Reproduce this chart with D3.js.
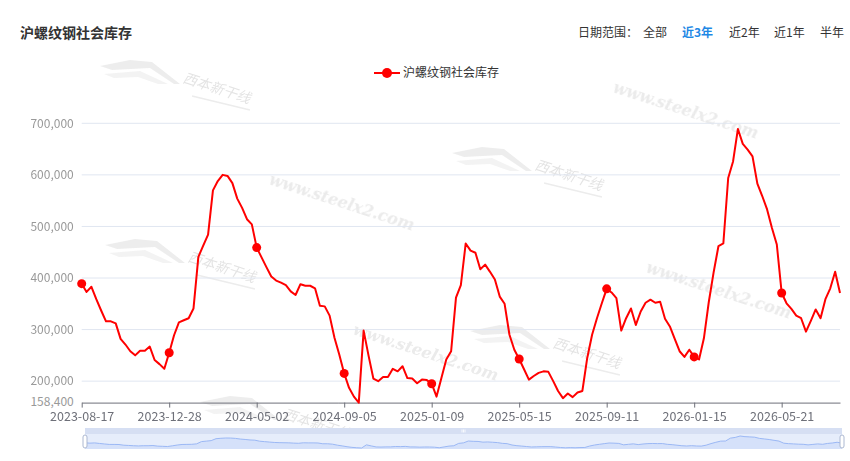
<!doctype html>
<html>
<head>
<meta charset="utf-8">
<script src="https://d3js.org/d3.v7.min.js"></script>
<style>
  body { margin: 0; background: #fff; }
  text { font-family: "Microsoft YaHei", "Noto Sans CJK SC", sans-serif; }
</style>
</head>
<body>
<div id="chart"></div>
<script>
// weekly dates (category axis)
var dates = [
  "2023-08-17","2023-08-24","2023-08-31","2023-09-07","2023-09-14","2023-09-21","2023-09-28","2023-10-12","2023-10-19","2023-10-26",
  "2023-11-02","2023-11-09","2023-11-16","2023-11-23","2023-11-30","2023-12-07","2023-12-14","2023-12-21","2023-12-28","2024-01-04",
  "2024-01-11","2024-01-18","2024-01-25","2024-02-01","2024-02-08","2024-02-15","2024-02-22","2024-02-29","2024-03-07","2024-03-14",
  "2024-03-21","2024-03-28","2024-04-04","2024-04-11","2024-04-18","2024-04-25","2024-05-02","2024-05-09","2024-05-16","2024-05-23",
  "2024-05-30","2024-06-06","2024-06-13","2024-06-20","2024-06-27","2024-07-04","2024-07-11","2024-07-18","2024-07-25","2024-08-01",
  "2024-08-08","2024-08-15","2024-08-22","2024-08-29","2024-09-05","2024-09-12","2024-09-19","2024-09-26","2024-10-03","2024-10-10",
  "2024-10-17","2024-10-24","2024-10-31","2024-11-07","2024-11-14","2024-11-21","2024-11-28","2024-12-05","2024-12-12","2024-12-19",
  "2024-12-26","2025-01-02","2025-01-09","2025-01-16","2025-01-23","2025-01-30","2025-02-06","2025-02-13","2025-02-20","2025-02-27",
  "2025-03-06","2025-03-13","2025-03-20","2025-03-27","2025-04-03","2025-04-10","2025-04-17","2025-04-24","2025-05-01","2025-05-08",
  "2025-05-15","2025-05-22","2025-05-29","2025-06-03","2025-06-05","2025-06-12","2025-06-19","2025-06-26","2025-07-03","2025-07-10",
  "2025-07-17","2025-07-24","2025-07-31","2025-08-07","2025-08-14","2025-08-21","2025-08-28","2025-09-04","2025-09-11","2025-09-18",
  "2025-09-25","2025-10-02","2025-10-09","2025-10-16","2025-10-23","2025-10-30","2025-11-06","2025-11-13","2025-11-20","2025-11-27",
  "2025-12-04","2025-12-11","2025-12-18","2025-12-25","2026-01-01","2026-01-08","2026-01-15","2026-01-22","2026-01-29","2026-02-05",
  "2026-02-12","2026-02-19","2026-02-26","2026-03-05","2026-03-12","2026-03-19","2026-03-26","2026-04-02","2026-04-09","2026-04-16",
  "2026-04-23","2026-04-30","2026-05-07","2026-05-14","2026-05-21","2026-05-28","2026-06-04","2026-06-11","2026-06-18","2026-06-25",
  "2026-07-02","2026-07-09","2026-07-16","2026-07-23","2026-07-30","2026-08-06","2026-08-13"
];

// 沪螺纹钢社会库存 (吨)
var stock = [
  389000,373000,383000,359000,337000,316000,316000,312000,282000,271000,
  258000,250000,259000,259000,267000,241000,233000,224000,255000,289000,
  314000,318000,322000,341000,441000,463000,484000,570000,588000,600000,
  598000,584000,554000,536000,514000,504000,459000,440000,421000,403000,
  395000,391000,386000,374000,367000,388000,385000,385000,380000,346000,
  345000,327000,284000,251000,215000,187000,170000,158400,298000,250000,
  205000,200000,208000,208000,224000,219000,229000,206000,205000,196000,
  203000,202000,195000,170000,206000,242000,258000,362000,386000,467000,
  453000,449000,417000,426000,412000,397000,364000,350000,290000,261000,
  243000,223000,203000,210000,216000,219000,218000,200000,181000,167000,
  176000,169000,178000,181000,245000,290000,322000,351000,379000,372000,
  361000,298000,322000,341000,309000,335000,352000,358000,352000,354000,
  321000,306000,282000,258000,247000,261000,247000,242000,283000,353000,
  411000,462000,467000,594000,626000,689000,660000,649000,636000,583000,
  559000,533000,497000,465000,371000,351000,340000,327000,322000,296000,
  317000,339000,322000,359000,380000,412000,371000
];

var yTicks = [158400, 200000, 300000, 400000, 500000, 600000, 700000];
var xTicks = dates.filter(function(d, i) { return i % 18 === 0; });
var rangeOptions = ["全部", "近3年", "近2年", "近1年", "半年"];
var activeRange = "近3年";
var seriesName = "沪螺纹钢社会库存";

var W = 850, H = 461;
var plotLeft = 81.7, plotRight = 840, plotTop = 123.3, plotBottom = 402.6;

var svg = d3.select("#chart").append("svg")
    .attr("width", W).attr("height", H);

// ---- watermarks
var wm = svg.append("g").attr("class", "watermarks").attr("opacity", 0.7);
function logo(x, y) {
  var g = wm.append("g").attr("transform", "translate(" + x + "," + y + ")");
  g.append("path").attr("d", "M0,4 L30,-2 L52,0 L80,22 L74,22 L50,6 L12,8 Z").attr("fill", "#e6e6e6");
  g.append("path").attr("d", "M4,12 L40,9 L68,22 L58,22 L38,15 L14,16 Z").attr("fill", "#eeeeee");
  g.append("text").attr("transform", "translate(82,20) rotate(18)")
    .attr("font-size", 14).attr("font-style", "italic")
    .attr("fill", "#d8d8d8").text("西本新干线");
  g.append("line").attr("x1", 92).attr("y1", 34).attr("x2", 150).attr("y2", 48)
    .attr("stroke", "#e4e4e4").attr("stroke-width", 1.5);
}
function site(x, y) {
  wm.append("text").attr("transform", "translate(" + x + "," + y + ") rotate(18)")
    .style("font-family", "'DejaVu Serif', serif").attr("font-size", 16)
    .attr("font-style", "italic").attr("font-weight", "bold")
    .attr("fill", "#e2e2e2").text("www.steelx2.com");
}
logo(100, 62); logo(452, 149); logo(105, 241); logo(470, 327); logo(200, 398);
site(612, 92); site(268, 184); site(645, 272); site(352, 334);

// ---- title & range selector
svg.append("text").attr("x", 20).attr("y", 38).attr("font-size", 14).attr("font-weight", "bold")
  .attr("fill", "#333").text(seriesName);

svg.append("text").attr("x", 578).attr("y", 37).attr("font-size", 12).attr("fill", "#333").text("日期范围：");
var rx = [643, 682, 729, 774, 820];
rangeOptions.forEach(function(r, i) {
  svg.append("text").attr("x", rx[i]).attr("y", 37).attr("font-size", 12)
    .attr("fill", r === activeRange ? "#1e88e5" : "#333")
    .attr("font-weight", r === activeRange ? "bold" : "normal").text(r);
});

// ---- legend
var lg = svg.append("g").attr("transform", "translate(374,73)");
lg.append("line").attr("x1", 0).attr("x2", 26).attr("y1", 0).attr("y2", 0).attr("stroke", "red").attr("stroke-width", 2);
lg.append("circle").attr("cx", 13).attr("cy", 0).attr("r", 5).attr("fill", "red");
lg.append("text").attr("x", 29).attr("y", 0).attr("dy", "0.35em").attr("font-size", 12).attr("fill", "#333").text(seriesName);

// ---- scales
var x = d3.scalePoint().domain(dates).range([plotLeft, plotRight]);
var y = d3.scaleLinear().domain([158400, 700000]).range([plotBottom, plotTop]);

// grid lines
svg.append("g")
  .selectAll("line").data(yTicks.slice(1)).enter().append("line")
  .attr("x1", plotLeft).attr("x2", plotRight)
  .attr("y1", function(d) { return y(d); }).attr("y2", function(d) { return y(d); })
  .attr("stroke", "#e0e6f1").attr("stroke-width", 1);

// y axis labels
var yAxis = svg.append("g").attr("transform", "translate(" + plotLeft + ",0)")
  .call(d3.axisLeft(y).tickValues(yTicks).tickSize(0).tickPadding(8).tickFormat(d3.format(",")));
yAxis.select(".domain").remove();
yAxis.selectAll("text").attr("fill", "#999").attr("font-size", 12)
  .style("font-family", "'Microsoft YaHei', 'Noto Sans CJK SC', sans-serif");
yAxis.selectAll(".tick").filter(function(d) { return d === 158400; })
  .select("text").attr("dy", "0.2em");

// x axis
var xAxis = svg.append("g").attr("transform", "translate(0," + plotBottom + ")")
  .call(d3.axisBottom(x).tickValues(xTicks).tickSize(5).tickPadding(5).tickSizeOuter(0));
xAxis.select(".domain").attr("stroke", "#6e7079");
xAxis.selectAll(".tick line").attr("stroke", "#6e7079");
xAxis.selectAll("text").attr("fill", "#6e7079").attr("font-size", 12.5)
  .style("font-family", "'Microsoft YaHei', 'Noto Sans CJK SC', sans-serif");

// ---- series
var line = d3.line()
  .x(function(d, i) { return x(dates[i]); })
  .y(function(d) { return y(d); });

svg.append("path").datum(stock)
  .attr("fill", "none").attr("stroke", "red").attr("stroke-width", 2)
  .attr("stroke-linejoin", "round").attr("d", line);

svg.append("g").selectAll("circle")
  .data(stock.map(function(v, i) { return [dates[i], v]; }).filter(function(d, i) { return i % 18 === 0; }))
  .enter().append("circle")
  .attr("cx", function(d) { return x(d[0]); })
  .attr("cy", function(d) { return y(d[1]); })
  .attr("r", 4.5).attr("fill", "red");

// ---- data zoom slider
var sx0 = 85, sx1 = 842, sy0 = 428, sy1 = 449;
var dz = svg.append("g");
dz.append("rect").attr("x", sx0).attr("y", sy0).attr("width", sx1 - sx0).attr("height", sy1 - sy0)
  .attr("fill", "#e6edfb");
dz.append("rect").attr("x", sx0).attr("y", sy0).attr("width", sx1 - sx0).attr("height", 6)
  .attr("fill", "#d6dff3");

var xs = d3.scalePoint().domain(dates).range([sx0, sx1]);
var ys = d3.scaleLinear().domain(d3.extent(stock)).range([sy1 - 1, sy0 + 8]);
dz.append("path").datum(stock)
  .attr("fill", "#c9d8fa").attr("fill-opacity", 0.6)
  .attr("d", d3.area().x(function(d, i) { return xs(dates[i]); }).y0(sy1).y1(function(d) { return ys(d); }));
dz.append("path").datum(stock)
  .attr("fill", "none").attr("stroke", "#9bb8f5").attr("stroke-width", 1)
  .attr("d", d3.line().x(function(d, i) { return xs(dates[i]); }).y(function(d) { return ys(d); }));

[-1.5, 0, 1.5].forEach(function(o) {
  dz.append("line").attr("x1", (sx0 + sx1) / 2 + o).attr("x2", (sx0 + sx1) / 2 + o)
    .attr("y1", sy0 + 1.5).attr("y2", sy0 + 4.5).attr("stroke", "#fff").attr("stroke-width", 0.8);
});
[sx0, sx1].forEach(function(hx) {
  dz.append("rect").attr("x", hx - 2).attr("y", 435).attr("width", 4).attr("height", 13)
    .attr("rx", 2).attr("fill", "#fff").attr("stroke", "#acb8d1").attr("stroke-width", 1);
});
</script>
</body>
</html>
